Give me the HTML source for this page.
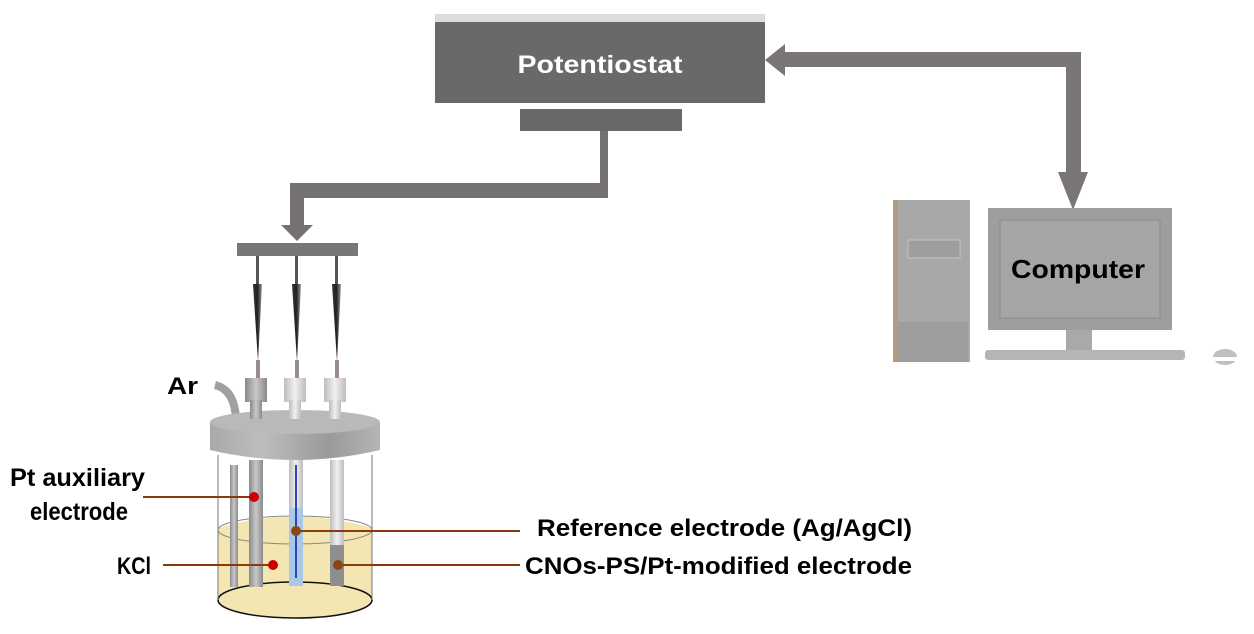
<!DOCTYPE html>
<html><head><meta charset="utf-8"><style>
html,body{margin:0;padding:0;background:#fff;width:1254px;height:634px;overflow:hidden}
svg{display:block}
text{font-family:"Liberation Sans",sans-serif;font-weight:bold}
</style></head><body>
<svg width="1254" height="634" viewBox="0 0 1254 634" xmlns="http://www.w3.org/2000/svg">
<defs>
<linearGradient id="cap" x1="0" x2="1"><stop offset="0" stop-color="#a9a9a9"/><stop offset="0.3" stop-color="#bdbdbd"/><stop offset="0.7" stop-color="#9a9a9a"/><stop offset="1" stop-color="#b4b4b4"/></linearGradient>
<linearGradient id="rod" x1="0" x2="1"><stop offset="0" stop-color="#8a8a8a"/><stop offset="0.5" stop-color="#c8c8c8"/><stop offset="1" stop-color="#8a8a8a"/></linearGradient>
<linearGradient id="rodl" x1="0" x2="1"><stop offset="0" stop-color="#bdbdbd"/><stop offset="0.5" stop-color="#f0f0f0"/><stop offset="1" stop-color="#bdbdbd"/></linearGradient>
<linearGradient id="cone" x1="0" x2="1"><stop offset="0" stop-color="#333"/><stop offset="0.5" stop-color="#222"/><stop offset="1" stop-color="#999"/></linearGradient>
</defs>
<rect x="435" y="14" width="330" height="9" fill="#dcdcdc"/>
<rect x="435" y="22" width="330" height="81" fill="#686a6a"/>
<text x="600" y="73" fill="#fff" font-size="25" text-anchor="middle" textLength="165" lengthAdjust="spacingAndGlyphs">Potentiostat</text>
<rect x="520" y="109" width="162" height="22" fill="#686a6a"/>
<path d="M600 131 H608 V198 H304 V225 H313 L297 241 L281 225 H290 V183 H600 Z" fill="#757171"/>
<path d="M765 60 L785 44 V52 H1081 V172 H1088 L1073 210 L1058 172 H1066 V67 H785 V76 Z" fill="#7a7676"/>
<rect x="893" y="200" width="77" height="162" fill="#a8a8a8"/>
<rect x="893" y="200" width="5" height="162" fill="#b59a80"/>
<rect x="908" y="240" width="52" height="18" fill="#9e9e9e" stroke="#c4c4c4"/>
<rect x="898" y="322" width="70" height="40" fill="#9d9d9d"/>
<rect x="988" y="208" width="184" height="122" fill="#9e9e9e"/>
<rect x="1000" y="220" width="160" height="98" fill="#a5a5a5" stroke="#8a8a8a"/>
<text x="1078" y="278" fill="#000" font-size="26" text-anchor="middle" textLength="134" lengthAdjust="spacingAndGlyphs">Computer</text>
<rect x="1066" y="330" width="26" height="20" fill="#a9a9a9"/>
<rect x="985" y="350" width="200" height="10" rx="3" fill="#b5b5b5"/>
<ellipse cx="1225" cy="357" rx="12" ry="8" fill="#c0c0c0"/>
<rect x="1213" y="357" width="25" height="4" fill="#fff"/>
<rect x="237" y="243" width="121" height="13" fill="#777"/>
<g fill="url(#cone)">
<rect x="256" y="256" width="3" height="30" fill="#555"/><rect x="295" y="256" width="3" height="30" fill="#555"/><rect x="335" y="256" width="3" height="30" fill="#555"/>
<polygon points="253,284 262,284 258,362"/><polygon points="292,284 301,284 297,362"/><polygon points="332,284 341,284 337,362"/>
<rect x="256" y="360" width="4" height="20" fill="#9a8a8a"/><rect x="295" y="360" width="4" height="20" fill="#9a8a8a"/><rect x="335" y="360" width="4" height="20" fill="#9a8a8a"/>
</g>
<path d="M215 385 Q235 390 236 420" stroke="#a0a0a0" stroke-width="8" fill="none"/>
<rect x="245" y="378" width="22" height="24" fill="url(#rod)"/>
<rect x="284" y="378" width="22" height="24" fill="url(#rodl)"/>
<rect x="324" y="378" width="22" height="24" fill="url(#rodl)"/>
<rect x="250" y="400" width="12" height="15" fill="url(#rod)"/>
<rect x="289" y="400" width="12" height="15" fill="url(#rodl)"/>
<rect x="329" y="400" width="12" height="15" fill="url(#rodl)"/>
<path d="M218 528 Q295 505 372 528 V600 H218 Z" fill="#f3e6b3"/>
<ellipse cx="295" cy="600" rx="77" ry="18" fill="#f3e6b3" stroke="#111" stroke-width="1.5"/>
<ellipse cx="295" cy="530" rx="77" ry="14" fill="none" stroke="#888" stroke-width="1"/>
<line x1="218" y1="455" x2="218" y2="600" stroke="#777"/>
<line x1="372" y1="455" x2="372" y2="600" stroke="#777"/>
<rect x="230" y="465" width="8" height="122" fill="url(#rod)"/>
<rect x="249" y="460" width="14" height="127" fill="url(#rod)"/>
<rect x="289" y="460" width="14" height="50" fill="url(#rodl)"/>
<rect x="289" y="508" width="14" height="78" fill="#a9c7e6"/>
<line x1="296" y1="465" x2="296" y2="578" stroke="#3344bb" stroke-width="2"/>
<rect x="330" y="460" width="14" height="85" fill="url(#rodl)"/>
<rect x="330" y="545" width="14" height="41" fill="#8e8e8e"/>
<path d="M210 422 V450 Q295 470 380 450 V422 Z" fill="url(#cap)"/>
<ellipse cx="295" cy="422" rx="85" ry="12" fill="#b9b9b9"/>
<rect x="250" y="405" width="12" height="14" fill="url(#rod)"/>
<rect x="289" y="405" width="12" height="14" fill="url(#rodl)"/>
<rect x="329" y="405" width="12" height="14" fill="url(#rodl)"/>
<g stroke="#8b3a10" stroke-width="2">
<line x1="143" y1="497" x2="253" y2="497"/>
<line x1="163" y1="565" x2="272" y2="565"/>
<line x1="296" y1="531" x2="520" y2="531"/>
<line x1="338" y1="565" x2="520" y2="565"/>
</g>
<circle cx="254" cy="497" r="5" fill="#c00"/>
<circle cx="273" cy="565" r="5" fill="#c00"/>
<circle cx="296" cy="531" r="5" fill="#8b4513"/>
<circle cx="338" cy="565" r="5" fill="#8b4513"/>
<text x="167" y="394" font-size="24" fill="#000" textLength="31" lengthAdjust="spacingAndGlyphs">Ar</text>
<text x="10" y="486" font-size="25" fill="#000" textLength="135" lengthAdjust="spacingAndGlyphs">Pt auxiliary</text>
<text x="30" y="520" font-size="25" fill="#000" textLength="98" lengthAdjust="spacingAndGlyphs">electrode</text>
<text x="117" y="574" font-size="24" fill="#000" textLength="34" lengthAdjust="spacingAndGlyphs">KCl</text>
<text x="537" y="536" font-size="24" fill="#000" textLength="375" lengthAdjust="spacingAndGlyphs">Reference electrode (Ag/AgCl)</text>
<text x="525" y="574" font-size="24" fill="#000" textLength="387" lengthAdjust="spacingAndGlyphs">CNOs-PS/Pt-modified electrode</text>
</svg>
</body></html>
